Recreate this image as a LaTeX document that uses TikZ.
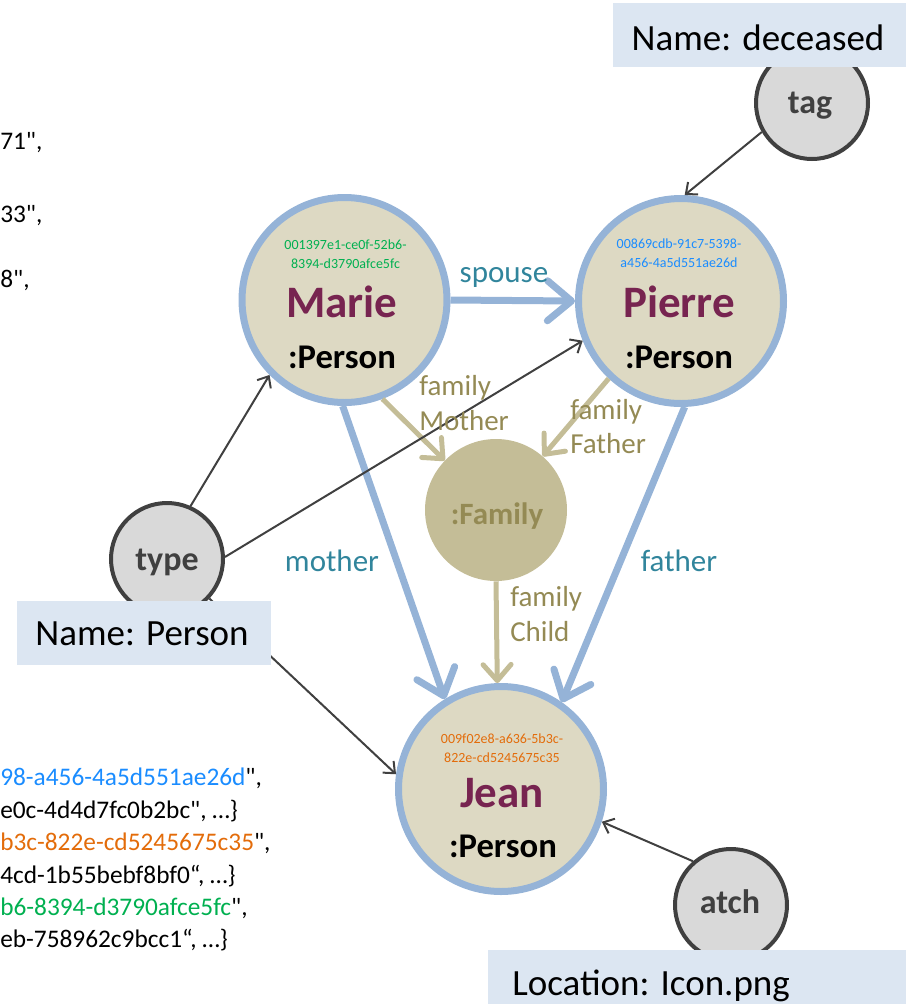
\documentclass[tikz,border=0pt]{standalone}
\usepackage{fontspec}
\setmainfont{Carlito}[Ligatures=TeXOff]
\usetikzlibrary{arrows.meta}
\definecolor{pblue}{HTML}{95B3D7}
\definecolor{pfill}{HTML}{DDD9C3}
\definecolor{pname}{HTML}{772450}
\definecolor{ffill}{HTML}{C4BD97}
\definecolor{ftext}{HTML}{948A54}
\definecolor{teal}{HTML}{31859C}
\definecolor{dgray}{HTML}{404040}
\definecolor{lgray}{HTML}{D9D9D9}
\definecolor{boxblue}{HTML}{DCE6F2}
\definecolor{idgreen}{HTML}{00B050}
\definecolor{idblue}{HTML}{1A8CFF}
\definecolor{idorange}{HTML}{E36C0A}
\tikzset{
  person/.style={circle, draw=pblue, fill=pfill, line width=5.25pt, minimum size=153.75pt, inner sep=0pt},
  smallc/.style={circle, draw=dgray, fill=lgray, line width=3pt, minimum size=84pt, inner sep=0pt},
  famc/.style={circle, fill=ffill, minimum size=106.5pt, inner sep=0pt},
  lbox/.style={fill=boxblue, draw=none},
  boxtext/.style={font=\fontsize{27.75}{32}\selectfont, inner sep=0pt, anchor=base},
  frag/.style={font=\fontsize{19}{23}\selectfont, inner sep=0pt, anchor=base west},
  uid/.style={font=\fontsize{10.5}{12}\selectfont, inner sep=0pt, anchor=base},
  pname/.style={font=\bfseries\fontsize{33.75}{38}\selectfont, text=pname, inner sep=0pt, anchor=base},
  ptype/.style={font=\bfseries\fontsize{26}{30}\selectfont, inner sep=0pt, anchor=base},
  stext/.style={font=\bfseries\fontsize{25.5}{30}\selectfont, text=dgray, inner sep=0pt, anchor=base},
  tlabel/.style={font=\fontsize{23.25}{27}\selectfont, text=teal, inner sep=0pt, anchor=base},
  flabel/.style={font=\fontsize{21.75}{26}\selectfont, text=ftext, inner sep=0pt, anchor=base west},
  blueedge/.style={draw=pblue, line width=5.25pt, -{Straight Barb[round, length=18pt, width=30pt]}},
  tanedge/.style={draw=ffill, line width=3.75pt, -{Straight Barb[round, length=12pt, width=21pt]}},
  thinedge/.style={draw=dgray, line width=1.5pt, -{Straight Barb[length=7pt, width=12pt]}}
}
\begin{document}
\begin{tikzpicture}[x=0.75pt, y=-0.75pt]
\useasboundingbox (0,0) rectangle (906,1004);

% left text fragments
\node[frag] (f1) at (0,149) {71",};
\node[frag] (f2) at (0,222) {33",};
\node[frag] (f3) at (0,287) {8",};
\node[frag] (g1) at (0,785) {\textcolor{idblue}{98-a456-4a5d551ae26d}",};
\node[frag] (g2) at (0,818) {e0c-4d4d7fc0b2bc", …\}};
\node[frag] (g3) at (0,850) {\textcolor{idorange}{b3c-822e-cd5245675c35}",};
\node[frag] (g4) at (0,883) {4cd-1b55bebf8bf0“, …\}};
\node[frag] (g5) at (0,915) {\textcolor{idgreen}{b6-8394-d3790afce5fc}",};
\node[frag] (g6) at (0,947) {eb-758962c9bcc1“, …\}};

% main circles
\node[person] (marie) at (344.5,300) {};
\node[person] (pierre) at (681,301) {};
\node[person] (jean) at (501,789) {};
\node[famc] (family) at (496,510) {};
\node[smallc] (tag) at (812,103) {};
\node[smallc] (type) at (167,559) {};
\node[smallc] (atch) at (731,905) {};

% texts in person circles
\node[uid, text=idgreen] (mid1) at (345.5,249) {001397e1-ce0f-52b6-};
\node[uid, text=idgreen] (mid2) at (345.5,268) {8394-d3790afce5fc};
\node[pname] (mname) at (342,317) {Marie};
\node[ptype] (mtype) at (342,368) {:Person};

\node[uid, text=idblue] (pid1) at (679,248) {00869cdb-91c7-5398-};
\node[uid, text=idblue] (pid2) at (679,267) {a456-4a5d551ae26d};
\node[pname] (pname) at (679,317) {Pierre};
\node[ptype] (ptype) at (679,368) {:Person};

\node[uid, text=idorange] (jid1) at (502,743) {009f02e8-a636-5b3c-};
\node[uid, text=idorange] (jid2) at (502,762) {822e-cd5245675c35};
\node[pname] (jname) at (502,807) {Jean};
\node[ptype] (jtype) at (503,857) {:Person};

\node[font=\bfseries\fontsize{23.25}{27}\selectfont, text=ftext, inner sep=0pt, anchor=base] (famtext) at (497,524) {:Family};

\node[stext] (tagt) at (810,113) {tag};
\node[stext] (typet) at (167,570) {type};
\node[stext] (atcht) at (730,913) {atch};

% thick edges
\draw[blueedge] (marie.0) -- (pierre.180);
\draw[blueedge] (marie.269) -- (jean.122);
\draw[blueedge] (pierre.272) -- (jean.55);
\draw[tanedge] (marie.291) -- (family.136);
\draw[tanedge] (pierre.227) -- (family.49);
\draw[tanedge] (family.270) -- (jean.92);

% thin edges
\draw[thinedge] (tag.210) -- (pierre.88);
\draw[thinedge] (type.66) -- (marie.225);
\draw[thinedge] (type.2) -- (pierre.202);
\draw[thinedge] (type.317) -- (jean.172);
\draw[thinedge] (atch.131) -- (jean.342);

% edge labels
\node[tlabel] (lspouse) at (504,282) {spouse};
\node[tlabel] (lmother) at (332,571) {mother};
\node[tlabel] (lfather) at (679,571) {father};
\node[flabel] (lfm1) at (419,395) {family};
\node[flabel] (lfm2) at (419,430) {Mother};
\node[flabel] (lff1) at (570,419) {family};
\node[flabel] (lff2) at (570,453) {Father};
\node[flabel] (lfc1) at (510,606) {family};
\node[flabel] (lfc2) at (510,641) {Child};

% boxes
\fill[lbox] (613,3) rectangle (906,67);
\node[boxtext] (bdeceased) at (758,50) {Name: deceased};
\fill[lbox] (17,601) rectangle (271,665);
\node[boxtext] (bperson) at (142,645) {Name: Person};
\fill[lbox] (488,950) rectangle (906,1004);
\node[boxtext, anchor=base west] (bloc) at (512,995) {Location: Icon.png};
\end{tikzpicture}
\end{document}
